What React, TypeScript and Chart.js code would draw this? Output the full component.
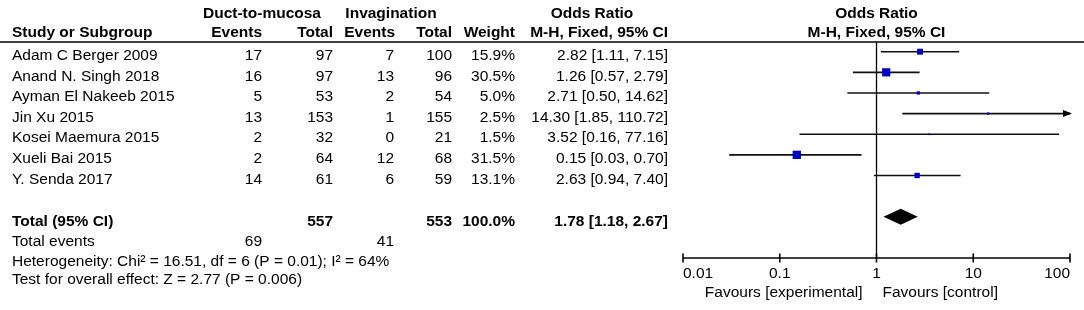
import React, { useEffect, useRef } from "react";
import { Chart, registerables } from "chart.js";

Chart.register(...registerables);

const studies = [
  "Adam C Berger 2009",
  "Anand N. Singh 2018",
  "Ayman El Nakeeb 2015",
  "Jin Xu 2015",
  "Kosei Maemura 2015",
  "Xueli Bai 2015",
  "Y. Senda 2017",
];
const ductEvents = [17, 16, 5, 13, 2, 2, 14];
const ductTotals = [97, 97, 53, 153, 32, 64, 61];
const invEvents = [7, 13, 2, 1, 0, 12, 6];
const invTotals = [100, 96, 54, 155, 21, 68, 59];
const weights = [15.9, 30.5, 5.0, 2.5, 1.5, 31.5, 13.1];
const oddsRatios = [2.82, 1.26, 2.71, 14.3, 3.52, 0.15, 2.63];
const lowerCI = [1.11, 0.57, 0.5, 1.85, 0.16, 0.03, 0.94];
const upperCI = [7.15, 2.79, 14.62, 110.72, 77.16, 0.7, 7.4];

const pooled = { or: 1.78, lo: 1.18, hi: 2.67, weight: 100.0 };
const axisTicks = [0.01, 0.1, 1, 10, 100];
const heterogeneityText = "Heterogeneity: Chi\u00B2 = 16.51, df = 6 (P = 0.01); I\u00B2 = 64%";
const overallText = "Test for overall effect: Z = 2.77 (P = 0.006)";
const favoursLeft = "Favours [experimental]";
const favoursRight = "Favours [control]";

const FONT = '"Liberation Sans", Arial, sans-serif';
const SIZE = 15.5;

const forestPlugin = {
  id: "forest",
  beforeDatasetsDraw(chart: any) {
    const { ctx, chartArea, scales } = chart;
    const xs = scales.x;
    const ys = scales.y;
    ctx.save();
    ctx.strokeStyle = "#000";
    ctx.fillStyle = "#000";

    // header rule
    ctx.lineWidth = 1.6;
    ctx.beginPath();
    ctx.moveTo(0, chartArea.top);
    ctx.lineTo(chart.width, chartArea.top);
    ctx.stroke();

    // line of no effect
    const x1 = xs.getPixelForValue(1);
    ctx.lineWidth = 1.3;
    ctx.beginPath();
    ctx.moveTo(x1, chartArea.top);
    ctx.lineTo(x1, chartArea.bottom);
    ctx.stroke();

    // CI lines
    ctx.lineWidth = 1.6;
    ctx.strokeStyle = "#111";
    for (let i = 0; i < studies.length; i++) {
      const y = ys.getPixelForValue(i);
      const xl = xs.getPixelForValue(Math.max(lowerCI[i], xs.min));
      const clipped = upperCI[i] > xs.max;
      const xr = xs.getPixelForValue(Math.min(upperCI[i], xs.max));
      ctx.beginPath();
      ctx.moveTo(xl, y);
      ctx.lineTo(xr, y);
      ctx.stroke();
      if (clipped) {
        ctx.beginPath();
        ctx.moveTo(xr + 2, y);
        ctx.lineTo(xr - 7, y - 3.5);
        ctx.lineTo(xr - 7, y + 3.5);
        ctx.closePath();
        ctx.fill();
      }
    }

    // pooled diamond
    const yd = ys.getPixelForValue(studies.length + 1);
    ctx.beginPath();
    ctx.moveTo(xs.getPixelForValue(pooled.lo), yd);
    ctx.lineTo(xs.getPixelForValue(pooled.or), yd - 8);
    ctx.lineTo(xs.getPixelForValue(pooled.hi), yd);
    ctx.lineTo(xs.getPixelForValue(pooled.or), yd + 8);
    ctx.closePath();
    ctx.fill();

    // x axis
    const ya = chartArea.bottom;
    ctx.strokeStyle = "#000";
    ctx.lineWidth = 1.6;
    ctx.beginPath();
    ctx.moveTo(xs.getPixelForValue(axisTicks[0]), ya);
    ctx.lineTo(xs.getPixelForValue(axisTicks[axisTicks.length - 1]), ya);
    ctx.stroke();
    ctx.font = `${SIZE}px ${FONT}`;
    ctx.textBaseline = "middle";
    axisTicks.forEach((t, k) => {
      const px = xs.getPixelForValue(t);
      ctx.beginPath();
      ctx.moveTo(px, ya - 4.5);
      ctx.lineTo(px, ya + 4.5);
      ctx.stroke();
      ctx.textAlign = k === 0 ? "left" : k === axisTicks.length - 1 ? "right" : "center";
      ctx.fillText(String(t), px, ya + 16);
    });
    ctx.textAlign = "right";
    ctx.fillText(favoursLeft, x1 - 14, ya + 35);
    ctx.textAlign = "left";
    ctx.fillText(favoursRight, x1 + 6, ya + 35);

    // table
    const rowY = (r: number) => ys.getPixelForValue(r) + 4;
    const cols = { name: 12, de: 262, dt: 333, ie: 394, it: 452, w: 515, or: 668 };
    const txt = (s: string, x: number, y: number, align: string, bold = false) => {
      ctx.font = `${bold ? "bold " : ""}${SIZE}px ${FONT}`;
      ctx.textAlign = align;
      ctx.fillText(s, x, y);
    };
    const h1 = 14;
    const h2 = 33;
    txt("Duct-to-mucosa", 262, h1, "center", true);
    txt("Invagination", 391, h1, "center", true);
    txt("Odds Ratio", 592, h1, "center", true);
    txt("Odds Ratio", x1, h1, "center", true);
    txt("Study or Subgroup", cols.name, h2, "left", true);
    txt("Events", cols.de, h2, "right", true);
    txt("Total", cols.dt, h2, "right", true);
    txt("Events", cols.ie + 1, h2, "right", true);
    txt("Total", cols.it, h2, "right", true);
    txt("Weight", cols.w, h2, "right", true);
    txt("M-H, Fixed, 95% CI", cols.or, h2, "right", true);
    txt("M-H, Fixed, 95% CI", x1, h2, "center", true);

    const fmtOR = (o: number, l: number, h: number) =>
      `${o.toFixed(2)} [${l.toFixed(2)}, ${h.toFixed(2)}]`;
    for (let i = 0; i < studies.length; i++) {
      const y = rowY(i);
      txt(studies[i], cols.name, y, "left");
      txt(String(ductEvents[i]), cols.de, y, "right");
      txt(String(ductTotals[i]), cols.dt, y, "right");
      txt(String(invEvents[i]), cols.ie, y, "right");
      txt(String(invTotals[i]), cols.it, y, "right");
      txt(`${weights[i].toFixed(1)}%`, cols.w, y, "right");
      txt(fmtOR(oddsRatios[i], lowerCI[i], upperCI[i]), cols.or, y, "right");
    }
    const sum = (a: number[]) => a.reduce((p, c) => p + c, 0);
    const yt = rowY(studies.length + 1) + 1;
    txt("Total (95% CI)", cols.name, yt, "left", true);
    txt(String(sum(ductTotals)), cols.dt, yt, "right", true);
    txt(String(sum(invTotals)), cols.it, yt, "right", true);
    txt(`${pooled.weight.toFixed(1)}%`, cols.w, yt, "right", true);
    txt(fmtOR(pooled.or, pooled.lo, pooled.hi), cols.or, yt, "right", true);
    const ye = rowY(studies.length + 2);
    txt("Total events", cols.name, ye, "left");
    txt(String(sum(ductEvents)), cols.de, ye, "right");
    txt(String(sum(invEvents)), cols.ie, ye, "right");
    txt(heterogeneityText, cols.name, ye + 20, "left");
    txt(overallText, cols.name, ye + 38, "left");

    ctx.restore();
  },
};

export default function App() {
  const ref = useRef<HTMLCanvasElement>(null);
  useEffect(() => {
    if (!ref.current) return;
    const chart = new Chart(ref.current, {
      type: "scatter",
      data: {
        datasets: [
          {
            data: oddsRatios.map((o, i) => ({ x: o, y: i })),
            pointStyle: "rect",
            pointRadius: weights.map((w) => 1.05 * Math.sqrt(w)),
            backgroundColor: "#0000c8",
            borderWidth: 0,
          },
        ],
      },
      options: {
        responsive: false,
        animation: false,
        events: [],
        layout: { padding: { left: 683, right: 14, top: 42, bottom: 52 } },
        scales: {
          x: { type: "logarithmic", min: 0.01, max: 100, display: false },
          y: { type: "linear", min: -0.47, max: 10, reverse: true, display: false },
        },
        plugins: { legend: { display: false }, tooltip: { enabled: false } },
      },
      plugins: [forestPlugin],
    } as any);
    return () => chart.destroy();
  }, []);
  return (
    <div style={{ position: "absolute", left: 0, top: 0, width: 1084, height: 310, background: "#fff" }}>
      <canvas ref={ref} width={1084} height={310} style={{ display: "block" }} />
    </div>
  );
}
